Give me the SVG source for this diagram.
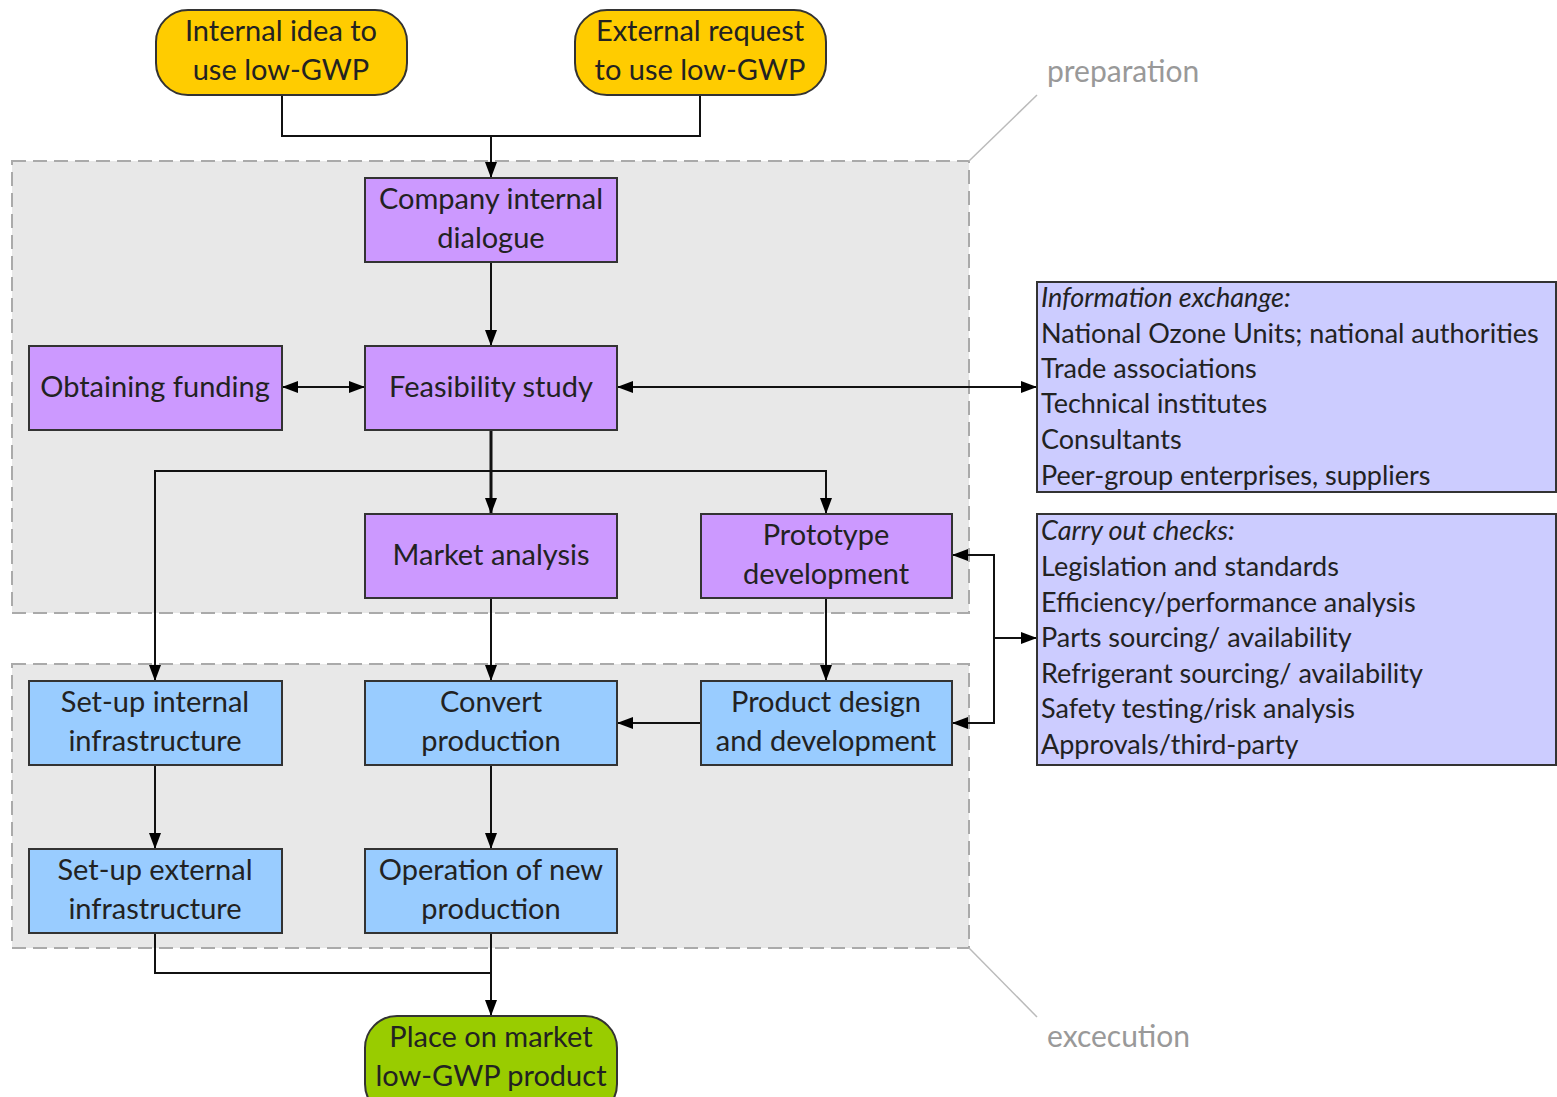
<svg xmlns="http://www.w3.org/2000/svg" width="1557" height="1097" viewBox="0 0 1557 1097">
<defs>
<marker id="ah" viewBox="0 0 16 12" refX="16" refY="6" markerWidth="16" markerHeight="12" markerUnits="userSpaceOnUse" orient="auto-start-reverse">
<path d="M0,0 L16,6 L0,12 Z" fill="#000"/>
</marker>
<style>
.t{font-family:Lato,"Open Sans",sans-serif;font-size:29px;fill:#222;text-anchor:middle}
.l{font-family:Lato,"Open Sans",sans-serif;font-size:27px;fill:#222}
.i{font-style:italic}
.g{font-family:Lato,"Open Sans",sans-serif;font-size:30px;fill:#999}
.grp{fill:#e8e8e8;stroke:#aaa;stroke-width:2;stroke-dasharray:14 7}
.p{fill:#cc99ff;stroke:#333;stroke-width:2}
.b{fill:#99ccff;stroke:#333;stroke-width:2}
.y{fill:#ffcc00;stroke:#333;stroke-width:2}
.gr{fill:#99cc00;stroke:#333;stroke-width:2}
.v{fill:#ccccff;stroke:#333;stroke-width:2}
.c{fill:none;stroke:#111;stroke-width:2}
.ca{fill:none;stroke:#111;stroke-width:2;marker-end:url(#ah)}
.cb{fill:none;stroke:#111;stroke-width:2;marker-end:url(#ah);marker-start:url(#ah)}
.co{fill:none;stroke:#bbb;stroke-width:1.5}
</style>
</defs>
<rect width="1557" height="1097" fill="#fff"/>
<g id="groups">
<rect class="grp" x="12" y="161" width="957" height="452"/>
<rect class="grp" x="12" y="664" width="957" height="284"/>
<line class="co" x1="969" y1="161" x2="1037" y2="95"/>
<line class="co" x1="969" y1="948" x2="1037" y2="1017"/>
<text class="g" x="1047" y="82">preparation</text>
<text class="g" x="1047" y="1047">excecution</text>
</g>
<g id="connectors">
<polyline class="c" points="282,95 282,136 700,136 700,95"/>
<line class="ca" x1="491" y1="136" x2="491" y2="178"/>
<line class="ca" x1="491" y1="262" x2="491" y2="346"/>
<line class="cb" x1="282" y1="387" x2="365" y2="387"/>
<line class="cb" x1="617" y1="387" x2="1037" y2="387"/>
<line class="ca" x1="491" y1="430" x2="491" y2="514" style="stroke-width:3"/>
<polyline class="ca" points="491,471 155,471 155,681"/>
<polyline class="ca" points="491,471 826,471 826,514"/>
<line class="ca" x1="491" y1="598" x2="491" y2="681"/>
<line class="ca" x1="826" y1="598" x2="826" y2="681"/>
<line class="ca" x1="701" y1="723" x2="617" y2="723"/>
<polyline class="cb" points="952,555 994,555 994,723 952,723"/>
<line class="ca" x1="994" y1="638" x2="1037" y2="638"/>
<line class="ca" x1="155" y1="765" x2="155" y2="849"/>
<line class="ca" x1="491" y1="765" x2="491" y2="849"/>
<polyline class="c" points="155,933 155,973 491,973"/>
<line class="ca" x1="491" y1="933" x2="491" y2="1016"/>
</g>
<g id="n-internal"><rect class="y" x="156" y="10" width="251" height="85" rx="32"/><text class="t" x="281" y="41">Internal idea to</text><text class="t" x="281" y="80">use low-GWP</text></g>
<g id="n-external"><rect class="y" x="575" y="10" width="251" height="85" rx="32"/><text class="t" x="700" y="41">External request</text><text class="t" x="700" y="80">to use low-GWP</text></g>
<g id="n-company"><rect class="p" x="365" y="178" width="252" height="84"/><text class="t" x="491" y="209">Company internal</text><text class="t" x="491" y="248">dialogue</text></g>
<g id="n-funding"><rect class="p" x="29" y="346" width="253" height="84"/><text class="t" x="155" y="397">Obtaining funding</text></g>
<g id="n-feasibility"><rect class="p" x="365" y="346" width="252" height="84"/><text class="t" x="491" y="397">Feasibility study</text></g>
<g id="n-market"><rect class="p" x="365" y="514" width="252" height="84"/><text class="t" x="491" y="565">Market analysis</text></g>
<g id="n-prototype"><rect class="p" x="701" y="514" width="251" height="84"/><text class="t" x="826" y="545">Prototype</text><text class="t" x="826" y="584">development</text></g>
<g id="n-setint"><rect class="b" x="29" y="681" width="253" height="84"/><text class="t" x="155" y="712">Set-up internal</text><text class="t" x="155" y="751">infrastructure</text></g>
<g id="n-convert"><rect class="b" x="365" y="681" width="252" height="84"/><text class="t" x="491" y="712">Convert</text><text class="t" x="491" y="751">production</text></g>
<g id="n-product"><rect class="b" x="701" y="681" width="251" height="84"/><text class="t" x="826" y="712">Product design</text><text class="t" x="826" y="751">and development</text></g>
<g id="n-setext"><rect class="b" x="29" y="849" width="253" height="84"/><text class="t" x="155" y="880">Set-up external</text><text class="t" x="155" y="919">infrastructure</text></g>
<g id="n-operation"><rect class="b" x="365" y="849" width="252" height="84"/><text class="t" x="491" y="880">Operation of new</text><text class="t" x="491" y="919">production</text></g>
<g id="n-place"><rect class="gr" x="365" y="1016" width="252" height="100" rx="32"/><text class="t" x="491" y="1047">Place on market</text><text class="t" x="491" y="1086">low-GWP product</text></g>
<g id="n-info"><rect class="v" x="1037" y="282" width="519" height="210"/>
<text class="l i" x="1041" y="307">Information exchange:</text>
<text class="l" x="1041" y="343">National Ozone Units; national authorities</text>
<text class="l" x="1041" y="378">Trade associations</text>
<text class="l" x="1041" y="413">Technical institutes</text>
<text class="l" x="1041" y="449">Consultants</text>
<text class="l" x="1041" y="485">Peer-group enterprises, suppliers</text>
</g>
<g id="n-checks"><rect class="v" x="1037" y="514" width="519" height="251"/>
<text class="l i" x="1041" y="540">Carry out checks:</text>
<text class="l" x="1041" y="576">Legislation and standards</text>
<text class="l" x="1041" y="612">Efficiency/performance analysis</text>
<text class="l" x="1041" y="647">Parts sourcing/ availability</text>
<text class="l" x="1041" y="683">Refrigerant sourcing/ availability</text>
<text class="l" x="1041" y="718">Safety testing/risk analysis</text>
<text class="l" x="1041" y="754">Approvals/third-party</text>
</g>
</svg>
